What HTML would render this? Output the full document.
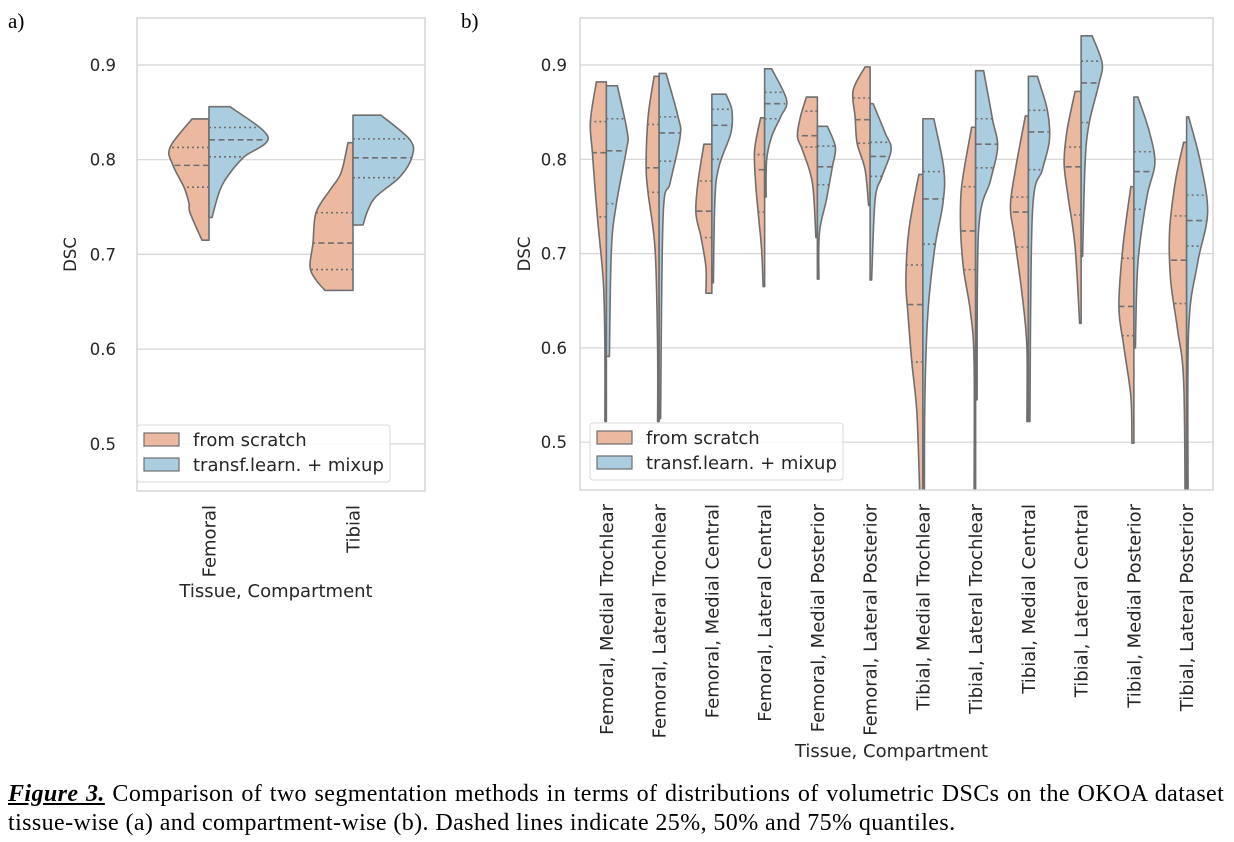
<!DOCTYPE html>
<html><head><meta charset="utf-8">
<style>
body{margin:0;background:#fff;width:1234px;height:842px;overflow:hidden;font-family:"DejaVu Sans","Liberation Sans",sans-serif;}
svg{position:absolute;left:0;top:0}
.cap{position:absolute;left:8px;font-family:"Liberation Serif",serif;font-size:24px;letter-spacing:0.4px;color:#000;white-space:nowrap}
</style></head>
<body>
<svg id="chart" width="1234" height="842"></svg>
<div class="cap" style="top:781px;word-spacing:1.2px"><b><i><u>Figure 3.</u></i></b> Comparison of two segmentation methods in terms of distributions of volumetric DSCs on the OKOA dataset</div>
<div class="cap" style="top:810px">tissue-wise (a) and compartment-wise (b). Dashed lines indicate 25%, 50% and 75% quantiles.</div>
<script>
// ---- data panel a ----
const catsA = ["Femoral","Tibial"];
const yTicks = [0.5,0.6,0.7,0.8,0.9];
const aScratchVals = [[0.843,0.813,0.794,0.771,0.754,0.744,0.715],[0.818,0.786,0.768,0.744,0.712,0.687,0.673,0.662]];
const aScratchDens = [[17,39,36,25,20,19,7],[5,12,23,37,40,43,37,28]];
const aScratchQ = [[0.771,0.794,0.813],[0.684,0.712,0.744]];
const aMixVals = [[0.856,0.824,0.803,0.786,0.768,0.739],[0.847,0.821,0.803,0.782,0.761,0.747,0.731]];
const aMixDens = [[21,59,35,21,11,3],[28,57,59,47,23,15,10]];
const aMixQ = [[0.803,0.821,0.834],[0.781,0.802,0.822]];
// ---- data panel b ----
const catsB = ["Femoral, Medial Trochlear","Femoral, Lateral Trochlear","Femoral, Medial Central","Femoral, Lateral Central","Femoral, Medial Posterior","Femoral, Lateral Posterior","Tibial, Medial Trochlear","Tibial, Lateral Trochlear","Tibial, Medial Central","Tibial, Lateral Central","Tibial, Medial Posterior","Tibial, Lateral Posterior"];
const bScratchVals = [
 [0.882,0.840,0.807,0.739,0.669,0.60,0.522],
 [0.888,0.845,0.792,0.764,0.704,0.60,0.522],
 [0.816,0.775,0.743,0.718,0.686,0.658],
 [0.844,0.810,0.775,0.739,0.704,0.665],
 [0.866,0.845,0.824,0.810,0.775,0.717],
 [0.898,0.873,0.845,0.817,0.789,0.751],
 [0.784,0.725,0.672,0.637,0.584,0.531,0.44],
 [0.834,0.771,0.725,0.683,0.637,0.584,0.44],
 [0.846,0.789,0.750,0.718,0.654,0.601,0.522],
 [0.872,0.831,0.796,0.760,0.707,0.626],
 [0.771,0.707,0.644,0.601,0.548,0.499],
 [0.818,0.778,0.725,0.672,0.619,0.566,0.44]];
const bScratchDens = [
 [10,16,14,9,3,1.5,1.5],[5,11,13,11,4,1.5,1.5],[8,14,16,11,6,6],[4,10,9,6,3,1.5],[11,17,20,15,5,1.5],[5,17,15,13,5,1.5],
 [4,14,17,15,11,6,3],[4,14,15,12,5,1.5,1.5],[3,13,18,14,6,1.5,1.5],[6,14,17,13,6,1.5],[3,11,15,10,3,2],[3,11,17,16,9,3,1.5]];
const bScratchQ = [[0.739,0.807,0.840],[0.765,0.791,0.837],[0.717,0.745,0.777],[0.744,0.789,0.805],[0.813,0.825,0.851],[0.817,0.842,0.865],
 [0.585,0.646,0.688],[0.683,0.724,0.771],[0.707,0.744,0.760],[0.741,0.792,0.813],[0.613,0.644,0.695],[0.647,0.693,0.740]];
const bMixVals = [
 [0.878,0.828,0.810,0.753,0.704,0.591],
 [0.891,0.845,0.824,0.775,0.739,0.525],
 [0.869,0.852,0.828,0.792,0.757,0.669],
 [0.896,0.863,0.845,0.824,0.799,0.760],
 [0.835,0.813,0.792,0.757,0.722,0.673],
 [0.859,0.828,0.810,0.782,0.757,0.672],
 [0.843,0.789,0.753,0.707,0.637,0.548,0.44],
 [0.894,0.842,0.813,0.778,0.725,0.545],
 [0.888,0.852,0.820,0.789,0.743,0.522],
 [0.931,0.902,0.881,0.838,0.796,0.697],
 [0.866,0.831,0.796,0.760,0.690,0.600],
 [0.845,0.796,0.743,0.690,0.619,0.44]];
const bMixDens = [
 [11,21,20,10,5,3],[7,19,21,11,4,1.5],[14,20,19,7,3,1.5],[7,22,16,7,2,1.5],[10,18,15,9,2,1.5],[3,15,21,12,5,1.5],
 [11,21,20,12,5,2,1.5],[8,17,22,15,3,1.5],[9,19,21,14,4,1.5],[11,21,18,8,4,1.5],[4,15,21,13,4,1.5],[2,14,21,11,2,1.5]];
const bMixQ = [[0.753,0.809,0.843],[0.798,0.828,0.845],[0.800,0.836,0.853],[0.843,0.859,0.871],[0.773,0.792,0.814],[0.782,0.803,0.818],
 [0.710,0.758,0.787],[0.791,0.816,0.843],[0.789,0.829,0.852],[0.839,0.881,0.904],[0.747,0.787,0.808],[0.708,0.735,0.762]];

const NS="http://www.w3.org/2000/svg";
const svg=document.getElementById('chart');
function mk(tag,attrs,parent){const e=document.createElementNS(NS,tag);for(const k in attrs)e.setAttribute(k,attrs[k]);(parent||svg).appendChild(e);return e;}
const ORANGE="#ebb9a0", BLUE="#abcde0", EDGE="#6f6f6f";
const LBL=18, TCK=16.5;

function interpW(vals,dens,v){
  for(let i=0;i<vals.length-1;i++){const a=vals[i],b=vals[i+1];if(v<=a&&v>=b){const t=(a-v)/(a-b);return dens[i]+(dens[i+1]-dens[i])*t;}}
  return 0;
}
function smoothPath(pts){
  let d="";
  for(let i=0;i<pts.length-1;i++){
    const p0=pts[Math.max(0,i-1)],p1=pts[i],p2=pts[i+1],p3=pts[Math.min(pts.length-1,i+2)];
    const c1=[p1[0]+(p2[0]-p0[0])/6,p1[1]+(p2[1]-p0[1])/6],c2=[p2[0]-(p3[0]-p1[0])/6,p2[1]-(p3[1]-p1[1])/6];
    d+=` C${c1[0].toFixed(1)},${c1[1].toFixed(1)} ${c2[0].toFixed(1)},${c2[1].toFixed(1)} ${p2[0].toFixed(1)},${p2[1].toFixed(1)}`;
  }
  return d;
}

function panel(o){
  const {x0,x1,y0,y1,v9,pxPer,cats,sVals,sDens,sQ,mVals,mDens,mQ,name,ticksX,labelX,legend,xLabelY}=o;
  const yS=v=>v9+(0.9-v)*pxPer;
  const n=cats.length, step=(x1-x0)/n;
  const xS=i=>x0+step*(i+0.5);
  const g=mk('g',{},svg);
  
  
  const clipId=name+'-clip';
  const cp=mk('clipPath',{id:clipId},g);mk('rect',{x:x0,y:y0,width:x1-x0,height:y1-y0},cp);
  yTicks.forEach(t=>{
    const y=yS(t);
    const gl=mk('line',{x1:x0,x2:x1,y1:y,y2:y,stroke:'#d5d5d5','stroke-width':1.2},g);
    
    const tl=mk('text',{x:ticksX,y:y+6,'text-anchor':'end','font-size':TCK,fill:'#262626'},g);
    tl.textContent=t.toFixed(1);
    
  });
  const vg=mk('g',{'clip-path':`url(#${clipId})`},g);
  function violin(i,vals,dens,q,side,fill,nm){
    const c=xS(i);
    const pts=vals.map((v,k)=>[c+side*dens[k],yS(v)]);
    let d=`M${c},${yS(vals[0])} L${pts[0][0]},${pts[0][1]}`+smoothPath(pts)+` L${c},${yS(vals[vals.length-1])} Z`;
    const p=mk('path',{d:d,fill:fill,stroke:EDGE,'stroke-width':1.6,'stroke-linejoin':'round'},vg);
    
    q.forEach((qv,k)=>{
      const w=interpW(vals,dens,qv);
      const l=mk('line',{x1:c,x2:c+side*w,y1:yS(qv),y2:yS(qv),stroke:EDGE,'stroke-width':1.6,'stroke-dasharray':k==1?'6,3.5':'2,3'},vg);
      
    });
  }
  cats.forEach((c,i)=>{
    violin(i,sVals[i],sDens[i],sQ[i],-1,ORANGE,'violin-scratch-'+i);
    violin(i,mVals[i],mDens[i],mQ[i],1,BLUE,'violin-mixup-'+i);
    const x=xS(i);
    const t=mk('text',{x:0,y:0,transform:`translate(${x+6.5},${y1+14}) rotate(-90)`,'text-anchor':'end','font-size':LBL,fill:'#262626'},g);
    t.textContent=c;
  });
  const fr=mk('rect',{x:x0,y:y0,width:x1-x0,height:y1-y0,fill:'none',stroke:'#cfcfcf','stroke-width':1.3},g);
  
  const yl=mk('text',{x:0,y:0,transform:`translate(${labelX},${(y0+y1)/2}) rotate(-90)`,'text-anchor':'middle','font-size':TCK,fill:'#262626'},g);
  yl.textContent='DSC';
  const xl=mk('text',{x:(x0+x1)/2-5,y:xLabelY,'text-anchor':'middle','font-size':LBL,fill:'#262626'},g);
  xl.textContent='Tissue, Compartment';
  // legend
  const lg=mk('g',{},g);
  const [lx,ly]=legend;
  mk('rect',{x:lx,y:ly,width:253,height:57,rx:3,fill:'rgba(255,255,255,0.85)',stroke:'#d8d8d8'},lg);
  [['from scratch',ORANGE],['transf.learn. + mixup',BLUE]].forEach((e,k)=>{
    const eg=mk('g',{},lg);
    mk('rect',{x:lx+7,y:ly+8+k*25,width:35,height:13,fill:e[1],stroke:EDGE,'stroke-width':1.2},eg);
    const t=mk('text',{x:lx+56,y:ly+21+k*25,'font-size':LBL,fill:'#262626'},eg);t.textContent=e[0];
  });
}
panel({x0:137,x1:425,y0:18,y1:491,v9:65,pxPer:947,cats:catsA,sVals:aScratchVals,sDens:aScratchDens,sQ:aScratchQ,mVals:aMixVals,mDens:aMixDens,mQ:aMixQ,name:'panel-a',ticksX:116,labelX:76,legend:[137,425],xLabelY:597});
panel({x0:580,x1:1213,y0:18,y1:490,v9:65,pxPer:943,cats:catsB,sVals:bScratchVals,sDens:bScratchDens,sQ:bScratchQ,mVals:bMixVals,mDens:bMixDens,mQ:bMixQ,name:'panel-b',ticksX:567,labelX:530,legend:[590,423],xLabelY:757});
const pa=mk('text',{x:8,y:28,'font-size':21,'font-family':'Liberation Serif, serif'});pa.textContent='a)';

const pb=mk('text',{x:461,y:28,'font-size':21,'font-family':'Liberation Serif, serif'});pb.textContent='b)';

</script>
</body></html>
